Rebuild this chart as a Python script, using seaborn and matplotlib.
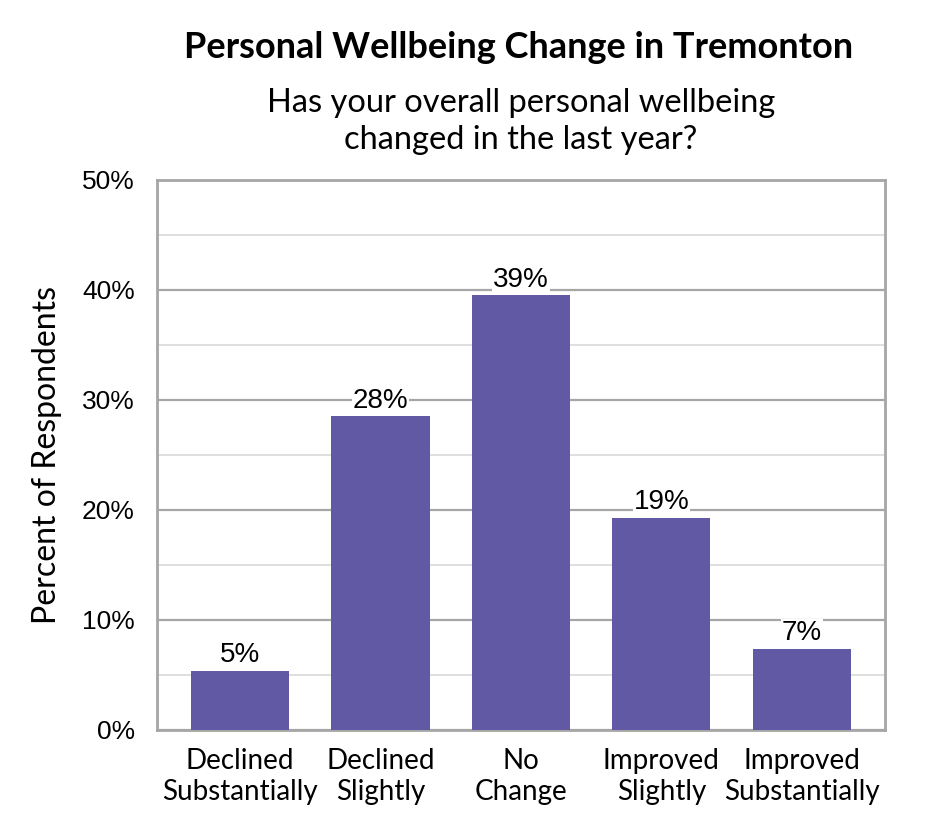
import matplotlib
matplotlib.use("Agg")
import matplotlib.pyplot as plt
import pandas as pd
import seaborn as sns
from matplotlib.ticker import MultipleLocator, PercentFormatter

categories = ["Declined\nSubstantially", "Declined\nSlightly", "No\nChange",
              "Improved\nSlightly", "Improved\nSubstantially"]
percents = [5.4, 28.5, 39.5, 19.3, 7.4]
labels = ["5%", "28%", "39%", "19%", "7%"]

BAR_COLOR = "#6159A4"
GRID_MAJOR = "#A6A6A6"
GRID_MINOR = "#D9D9D9"
ARIAL = ["Liberation Sans", "DejaVu Sans"]

sns.set_theme(style="white")
plt.rcParams["font.family"] = ["Lato", "DejaVu Sans"]
plt.rcParams["text.color"] = "black"
plt.rcParams["axes.labelcolor"] = "black"
plt.rcParams["xtick.color"] = "black"
plt.rcParams["ytick.color"] = "black"

df = pd.DataFrame({"category": categories, "percent": percents})

fig = plt.figure(figsize=(9.45, 8.4), dpi=100)
ax = fig.add_axes([0.166, 0.131, 0.7704, 0.655])

sns.barplot(data=df, x="category", y="percent", color=BAR_COLOR,
            saturation=1, width=0.7, linewidth=0, ax=ax, zorder=3)

ax.set_xlim(-0.593, 4.593)
ax.set_ylim(0, 50)
ax.yaxis.set_major_locator(MultipleLocator(10))
ax.yaxis.set_minor_locator(MultipleLocator(5))
ax.yaxis.set_major_formatter(PercentFormatter(decimals=0))
ax.grid(which="major", axis="y", color=GRID_MAJOR, linewidth=1.6, zorder=0)
ax.grid(which="minor", axis="y", color=GRID_MINOR, linewidth=1.2, zorder=0)
ax.grid(axis="x", visible=False)
ax.set_axisbelow(True)

for side in ["left", "right", "top", "bottom"]:
    ax.spines[side].set_visible(True)
    ax.spines[side].set_color(GRID_MAJOR)
    ax.spines[side].set_linewidth(2)

ax.tick_params(axis="both", which="both", length=0)
ax.tick_params(axis="y", labelsize=19, pad=16)
ax.tick_params(axis="x", labelsize=20, pad=13)
for t in ax.get_yticklabels():
    t.set_family(ARIAL)
for t in ax.get_xticklabels():
    t.set_linespacing(1.25)

ax.set_xlabel("")
ax.set_ylabel("Percent of Respondents", fontsize=23, labelpad=14)

for i, (val, lab) in enumerate(zip(percents, labels)):
    ax.text(i, val + 0.25, lab, ha="center", va="bottom", fontsize=20,
            family=ARIAL, zorder=4,
            bbox=dict(facecolor="white", edgecolor="none", pad=0.5))

fig.text(0.549, 0.943, "Personal Wellbeing Change in Tremonton", ha="center",
         va="center", fontsize=26, fontweight="bold")
fig.text(0.551, 0.855, "Has your overall personal wellbeing\nchanged in the last year?",
         ha="center", va="center", fontsize=23.5, linespacing=1.28)

fig.savefig("out.png", dpi=100)
